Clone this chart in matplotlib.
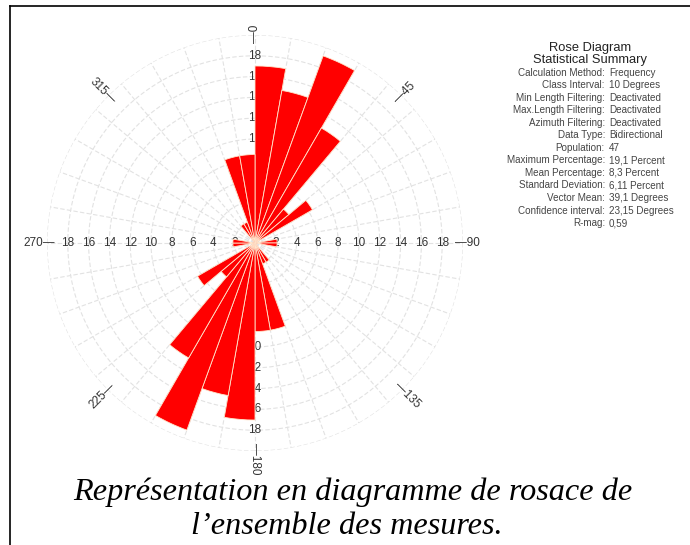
import numpy as np
import matplotlib
matplotlib.use("Agg")
import matplotlib.pyplot as plt
from matplotlib.lines import Line2D

# Class starts (degrees) over one half circle; bidirectional data is mirrored at +180
bin_starts = list(range(0, 180, 10))
counts = [8, 7, 9, 6, 2, 3, 0, 0, 1, 1, 0, 0, 0, 0, 1, 1, 4, 4]
population = 47
class_width = 10

ring_values = [2, 4, 6, 8, 10, 12, 14, 16, 18]
compass_angles = [0, 45, 90, 135, 180, 225, 270, 315]

summary_title = ["Rose Diagram", "Statistical Summary"]
summary_labels = [
    "Calculation Method:", "Class Interval:", "Min Length Filtering:",
    "Max.Length Filtering:", "Azimuth Filtering:", "Data Type:", "Population:",
    "Maximum Percentage:", "Mean Percentage:", "Standard Deviation:",
    "Vector Mean:", "Confidence interval:", "R-mag:",
]
summary_values = [
    "Frequency", "10 Degrees", "Deactivated", "Deactivated", "Deactivated",
    "Bidirectional", "47", "19,1 Percent", "8,3 Percent", "6,11 Percent",
    "39,1 Degrees", "23,15 Degrees", "0,59",
]
caption_lines = ["Représentation en diagramme de rosace de",
                 "l\u2019ensemble des mesures."]

W, H = 690, 545
fig = plt.figure(figsize=(W / 100, H / 100), dpi=100)
fig.patch.set_facecolor("white")

# polar axes: centre at (255, 243) px, 10.4 px per percent, rim at 20 %
cx, cy, rmax, scale = 255, 243, 20, 10.4
rad_px = rmax * scale
ax = fig.add_axes([(cx - rad_px) / W, (H - cy - rad_px) / H,
                   2 * rad_px / W, 2 * rad_px / H], projection="polar")
ax.set_theta_zero_location("N")
ax.set_theta_direction(-1)
ax.set_ylim(0, rmax)
ax.axis("off")

grid_kw = dict(color="#e2e2e2", lw=0.8, ls=(0, (4, 2)), zorder=0)
theta_full = np.linspace(0, 2 * np.pi, 721)
for r in ring_values + [20]:
    ax.plot(theta_full, np.full_like(theta_full, r), **grid_kw)
for a in range(0, 360, 10):
    ax.plot([np.radians(a)] * 2, [0, 20], **grid_kw)

# percentages, mirrored for the opposite half
pct = np.array(counts) / population * 100
starts = np.array(bin_starts)
all_starts = np.concatenate([starts, starts + 180])
all_pct = np.concatenate([pct, pct])
ax.bar(np.radians(all_starts + class_width / 2), all_pct,
       width=np.radians(class_width), bottom=0, color="#ff0000",
       edgecolor="#ffe6cc", linewidth=0.6, zorder=3)

txt_color = "#333333"
# ring labels along the four main axes (under the bars)
for a in (0, 90, 180, 270):
    for v in ring_values:
        ax.text(np.radians(a), v, str(v), ha="center", va="center",
                fontsize=8.5, color=txt_color, zorder=1,
                family="Liberation Sans")

# compass labels with a short tick toward the centre
for a in compass_angles:
    phi = 90 - a
    phi = (phi + 180) % 360 - 180
    if np.cos(np.radians(phi)) >= -1e-9:
        rot, s, ha = phi, "\u2014" + str(a), "left"
    else:
        rot, s, ha = phi + 180, str(a) + "\u2014", "right"
        if rot > 180:
            rot -= 360
    ax.text(np.radians(a), 19.2, s, rotation=rot, rotation_mode="anchor",
            ha=ha, va="center", fontsize=8.5, color=txt_color,
            family="Liberation Sans", clip_on=False)

# statistical summary panel
fig.text(590 / W, 1 - 48 / H, summary_title[0], ha="center", va="center",
         fontsize=9.3, color="#222222", family="Liberation Sans")
fig.text(590 / W, 1 - 60 / H, summary_title[1], ha="center", va="center",
         fontsize=9.3, color="#222222", family="Liberation Sans")
y0, dy = 72.5, 12.55
for i, (lab, val) in enumerate(zip(summary_labels, summary_values)):
    y = 1 - (y0 + i * dy) / H
    fig.text(605 / W, y, lab, ha="right", va="center", fontsize=7.1,
             color="#444444", family="Liberation Sans")
    fig.text(609 / W, y, val, ha="left", va="center", fontsize=7.1,
             color="#444444", family="Liberation Sans")

# caption
fig.text(353 / W, 1 - 492 / H, caption_lines[0], ha="center", va="center",
         fontsize=23.2, style="italic", family="Liberation Serif", color="black")
fig.text(347 / W, 1 - 526 / H, caption_lines[1], ha="center", va="center",
         fontsize=23.2, style="italic", family="Liberation Serif", color="black")

# page frame
fig.add_artist(Line2D([10 / W, 1], [1 - 6 / H] * 2, color="black", lw=1.2))
fig.add_artist(Line2D([10 / W] * 2, [0, 1 - 6 / H], color="black", lw=1.2))

fig.savefig("out.png", dpi=100)
